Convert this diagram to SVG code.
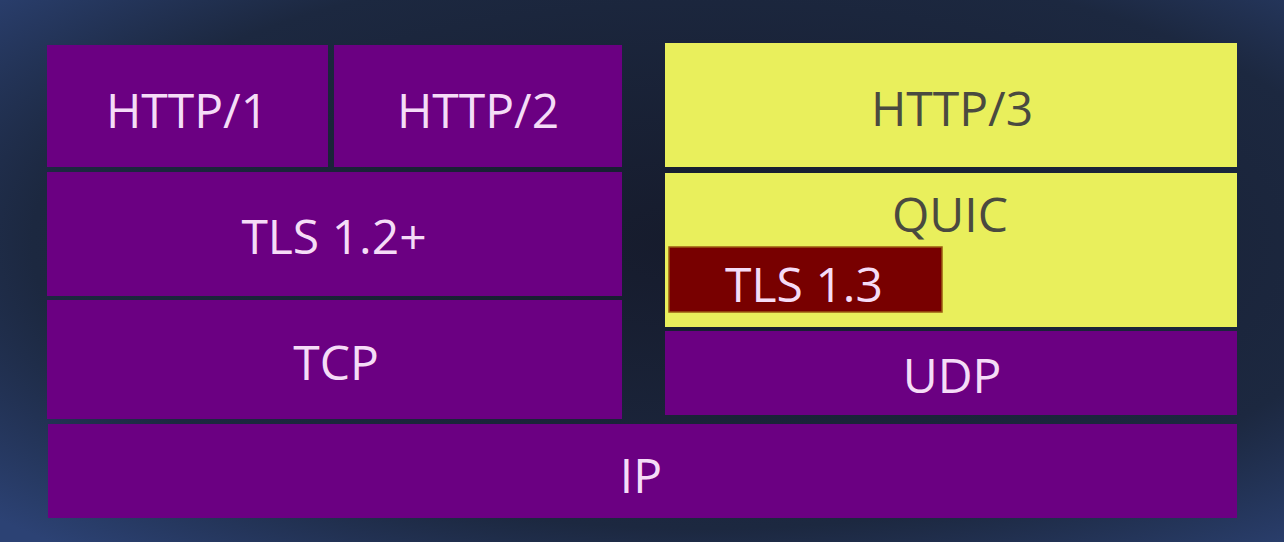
<svg xmlns="http://www.w3.org/2000/svg" width="1284" height="542" viewBox="0 0 1284 542">
<style>
.p{fill:#6b0082}
.y{fill:#e9ef5c}
.r{fill:#780000;stroke:#9a5a10;stroke-width:1.5}
.t{font-family:"Open Sans","Noto Sans",sans-serif;font-size:48px;text-anchor:middle;fill:#f5dcf7}
.d{fill:#4a4a40}
</style>
<defs>
<radialGradient id="bg" cx="0.55" cy="0.45" r="0.75">
<stop offset="0" stop-color="#161b2c"/>
<stop offset="0.7" stop-color="#1c2840"/>
<stop offset="1" stop-color="#2c4274"/>
</radialGradient>
</defs>
<rect width="1284" height="542" fill="url(#bg)"/>
<g id="http1"><rect class="p" x="47" y="45" width="281" height="122"/><text class="t" x="187" y="128">HTTP/1</text></g>
<g id="http2"><rect class="p" x="334" y="45" width="288" height="122"/><text class="t" x="478" y="128">HTTP/2</text></g>
<g id="tls12"><rect class="p" x="47" y="172" width="575" height="124"/><text class="t" x="334" y="254">TLS 1.2+</text></g>
<g id="tcp"><rect class="p" x="47" y="300" width="575" height="119"/><text class="t" x="336" y="380">TCP</text></g>
<g id="ip"><rect class="p" x="48" y="424" width="1189" height="94"/><text class="t" x="641" y="493">IP</text></g>
<g id="http3"><rect class="y" x="665" y="43" width="572" height="124"/><text class="t d" x="952" y="126">HTTP/3</text></g>
<g id="quic"><rect class="y" x="665" y="173" width="572" height="154"/><text class="t d" x="950" y="232">QUIC</text></g>
<g id="tls13"><rect class="r" x="669" y="247" width="273" height="65"/><text class="t" x="804" y="302">TLS 1.3</text></g>
<g id="udp"><rect class="p" x="665" y="331" width="572" height="84"/><text class="t" x="952" y="393">UDP</text></g>
<g id="connectors"/>
</svg>
